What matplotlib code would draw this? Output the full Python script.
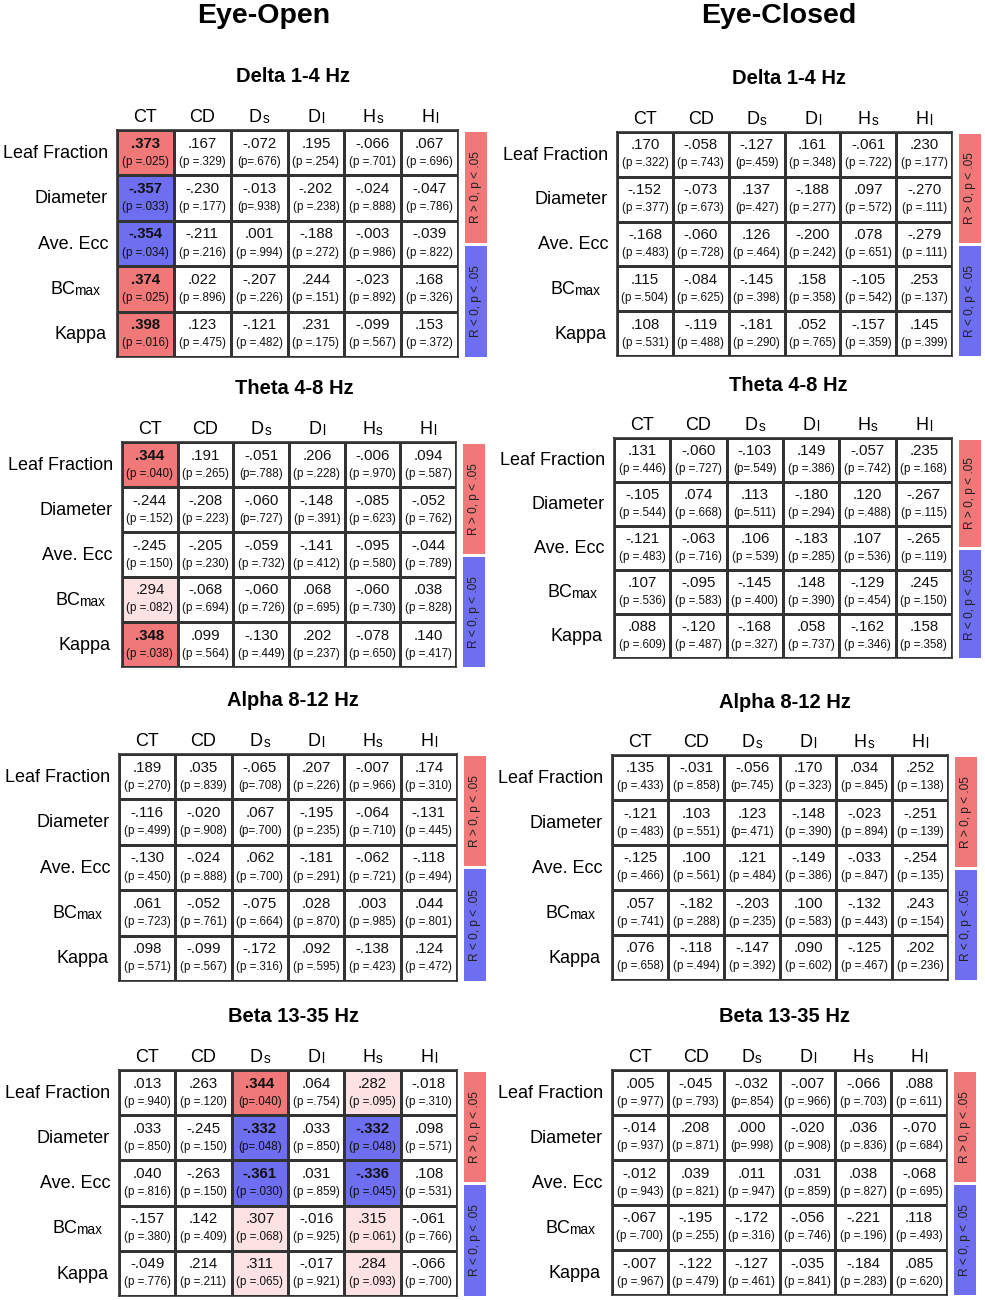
import matplotlib
matplotlib.use('Agg')
import matplotlib.pyplot as plt
import numpy as np
from matplotlib.colors import ListedColormap

plt.rcParams['font.family'] = ['Liberation Sans', 'DejaVu Sans']

# ---------------- data ----------------
conditions = ['Eye-Open', 'Eye-Closed']
bands = ['Delta 1-4 Hz', 'Theta 4-8 Hz', 'Alpha 8-12 Hz', 'Beta 13-35 Hz']
row_labels = [('Leaf Fraction', ''), ('Diameter', ''), ('Ave. Ecc', ''), ('BC', 'max'), ('Kappa', '')]
col_labels = [('CT', ''), ('CD', ''), ('D', 's'), ('D', 'l'), ('H', 's'), ('H', 'l')]
legend_pos = 'R > 0, p < .05'
legend_neg = 'R < 0, p < .05'

eo_delta_r = [[.373, .167, -.072, .195, -.066, .067],
              [-.357, -.230, -.013, -.202, -.024, -.047],
              [-.354, -.211, .001, -.188, -.003, -.039],
              [.374, .022, -.207, .244, -.023, .168],
              [.398, .123, -.121, .231, -.099, .153]]
eo_delta_p = [[.025, .329, .676, .254, .701, .696],
              [.033, .177, .938, .238, .888, .786],
              [.034, .216, .994, .272, .986, .822],
              [.025, .896, .226, .151, .892, .326],
              [.016, .475, .482, .175, .567, .372]]

ec_delta_r = [[.170, -.058, -.127, .161, -.061, .230],
              [-.152, -.073, .137, -.188, .097, -.270],
              [-.168, -.060, .126, -.200, .078, -.279],
              [.115, -.084, -.145, .158, -.105, .253],
              [.108, -.119, -.181, .052, -.157, .145]]
ec_delta_p = [[.322, .743, .459, .348, .722, .177],
              [.377, .673, .427, .277, .572, .111],
              [.483, .728, .464, .242, .651, .111],
              [.504, .625, .398, .358, .542, .137],
              [.531, .488, .290, .765, .359, .399]]

eo_theta_r = [[.344, .191, -.051, .206, -.006, .094],
              [-.244, -.208, -.060, -.148, -.085, -.052],
              [-.245, -.205, -.059, -.141, -.095, -.044],
              [.294, -.068, -.060, .068, -.060, .038],
              [.348, .099, -.130, .202, -.078, .140]]
eo_theta_p = [[.040, .265, .788, .228, .970, .587],
              [.152, .223, .727, .391, .623, .762],
              [.150, .230, .732, .412, .580, .789],
              [.082, .694, .726, .695, .730, .828],
              [.038, .564, .449, .237, .650, .417]]

ec_theta_r = [[.131, -.060, -.103, .149, -.057, .235],
              [-.105, .074, .113, -.180, .120, -.267],
              [-.121, -.063, .106, -.183, .107, -.265],
              [.107, -.095, -.145, .148, -.129, .245],
              [.088, -.120, -.168, .058, -.162, .158]]
ec_theta_p = [[.446, .727, .549, .386, .742, .168],
              [.544, .668, .511, .294, .488, .115],
              [.483, .716, .539, .285, .536, .119],
              [.536, .583, .400, .390, .454, .150],
              [.609, .487, .327, .737, .346, .358]]

eo_alpha_r = [[.189, .035, -.065, .207, -.007, .174],
              [-.116, -.020, .067, -.195, -.064, -.131],
              [-.130, -.024, .062, -.181, -.062, -.118],
              [.061, -.052, -.075, .028, .003, .044],
              [.098, -.099, -.172, .092, -.138, .124]]
eo_alpha_p = [[.270, .839, .708, .226, .966, .310],
              [.499, .908, .700, .235, .710, .445],
              [.450, .888, .700, .291, .721, .494],
              [.723, .761, .664, .870, .985, .801],
              [.571, .567, .316, .595, .423, .472]]

ec_alpha_r = [[.135, -.031, -.056, .170, .034, .252],
              [-.121, .103, .123, -.148, -.023, -.251],
              [-.125, .100, .121, -.149, -.033, -.254],
              [.057, -.182, -.203, .100, -.132, .243],
              [.076, -.118, -.147, .090, -.125, .202]]
ec_alpha_p = [[.433, .858, .745, .323, .845, .138],
              [.483, .551, .471, .390, .894, .139],
              [.466, .561, .484, .386, .847, .135],
              [.741, .288, .235, .583, .443, .154],
              [.658, .494, .392, .602, .467, .236]]

eo_beta_r = [[.013, .263, .344, .064, .282, -.018],
             [.033, -.245, -.332, .033, -.332, .098],
             [.040, -.263, -.361, .031, -.336, .108],
             [-.157, .142, .307, -.016, .315, -.061],
             [-.049, .214, .311, -.017, .284, -.066]]
eo_beta_p = [[.940, .120, .040, .754, .095, .310],
             [.850, .150, .048, .850, .048, .571],
             [.816, .150, .030, .859, .045, .531],
             [.380, .409, .068, .925, .061, .766],
             [.776, .211, .065, .921, .093, .700]]

ec_beta_r = [[.005, -.045, -.032, -.007, -.066, .088],
             [-.014, .208, .000, -.020, .036, -.070],
             [-.012, .039, .011, .031, .038, -.068],
             [-.067, -.195, -.172, -.056, -.221, .118],
             [-.007, -.122, -.127, -.035, -.184, .085]]
ec_beta_p = [[.977, .793, .854, .966, .703, .611],
             [.937, .871, .998, .908, .836, .684],
             [.943, .821, .947, .859, .827, .695],
             [.700, .255, .316, .746, .196, .493],
             [.967, .479, .461, .841, .283, .620]]

panels_r = [[eo_delta_r, eo_theta_r, eo_alpha_r, eo_beta_r],
            [ec_delta_r, ec_theta_r, ec_alpha_r, ec_beta_r]]
panels_p = [[eo_delta_p, eo_theta_p, eo_alpha_p, eo_beta_p],
            [ec_delta_p, ec_theta_p, ec_alpha_p, ec_beta_p]]

# ---------------- layout (pixels) ----------------
W, H = 985, 1300
boxes = [[(117, 130, 458, 357), (122, 442, 456, 667), (119, 754, 457, 981), (119, 1070, 457, 1296)],
         [(617, 132, 952, 356), (614, 438, 952, 658), (612, 755, 948, 980), (612, 1070, 947, 1295)]]
title_x = [264, 779]
row_label_inset = [0, 0, 0, 8, 2]
sub_gap = {'BC': -1.5, 'D': 0.8, 'H': 0.8}

RED = '#F07878'
BLUE = '#6E6EF0'
PINK = '#FCE2E2'
LINE = '#333333'
cmap = ListedColormap(['white', RED, BLUE, PINK])

fig = plt.figure(figsize=(W / 100, H / 100), dpi=100)
fig.patch.set_facecolor('white')
renderer = fig.canvas.get_renderer()


def px_text(x, y, s, **kw):
    return fig.text(x / W, 1 - y / H, s, **kw)


def fmt_r(v):
    s = f"{abs(v):.3f}"[1:]
    return ('-' if v < 0 else '') + s


LABEL_SIZE = 13.0
SUB_SIZE = 9.8


def sub_label(xref, ycenter, main, sub, align):
    base = ycenter + 0.716 * LABEL_SIZE * 100 / 72 / 2
    t1 = px_text(0, base, main, fontsize=LABEL_SIZE, va='baseline', ha='left')
    w1 = t1.get_window_extent(renderer).width
    w2 = 0
    t2 = None
    gap = sub_gap.get(main, 0.0)
    if sub:
        t2 = px_text(0, base + 1, sub, fontsize=SUB_SIZE, va='baseline', ha='left')
        w2 = t2.get_window_extent(renderer).width + gap
    tot = w1 + w2
    x0 = xref - tot / 2 if align == 'center' else xref - tot
    t1.set_x(x0 / W)
    if t2 is not None:
        t2.set_x((x0 + w1 + gap) / W)


for ci, cond in enumerate(conditions):
    px_text(title_x[ci], 16, cond, fontsize=20.5, fontweight='bold', ha='center', va='center')
    for bi, band in enumerate(bands):
        l, t, r, b = boxes[ci][bi]
        pw, ph = r - l, b - t
        ax = fig.add_axes([l / W, 1 - b / H, pw / W, ph / H])
        R = np.array(panels_r[ci][bi])
        P = np.array(panels_p[ci][bi])
        nr, nc = R.shape
        cat = np.zeros_like(R, dtype=int)
        cat[(P < 0.05) & (R > 0)] = 1
        cat[(P < 0.05) & (R < 0)] = 2
        cat[(P >= 0.05) & (P < 0.1) & (R > 0)] = 3
        ax.pcolormesh(np.arange(nc + 1), np.arange(nr + 1), cat, cmap=cmap, vmin=-0.5, vmax=3.5,
                      edgecolors=LINE, linewidth=0.9)
        ax.set_xlim(0, nc)
        ax.set_ylim(nr, 0)
        ax.set_xticks([])
        ax.set_yticks([])
        for sp in ax.spines.values():
            sp.set_linewidth(1.2)
            sp.set_color(LINE)

        for i in range(nr):
            for j in range(nc):
                sig = P[i, j] < 0.05
                ax.text(j + 0.5, i + 0.30, fmt_r(R[i, j]), ha='center', va='center',
                        fontsize=10.8, fontweight='bold' if sig else 'normal', color='#111111')
                sep = '' if (i < 2 and j == 2) else ' '
                ptxt = f"(p{sep}=" + f"{P[i, j]:.3f}"[1:] + ')'
                ax.text(j + 0.5, i + 0.70, ptxt, ha='center', va='center',
                        fontsize=8.4, color='#111111')

        cw = pw / nc
        rh = ph / nr
        for j, (m, s) in enumerate(col_labels):
            sub_label(l + (j + 0.5) * cw, t - 14, m, s, 'center')
        for i, (m, s) in enumerate(row_labels):
            sub_label(l - 9 - row_label_inset[i], t + (i + 0.47) * rh, m, s, 'right')

        px_text((l + r) / 2 + 5, t - 53, band, fontsize=14.5, fontweight='bold',
                ha='center', va='center')

        # legend bar
        bl = r + 7
        mid = (t + b) / 2
        lax = fig.add_axes([bl / W, 1 - b / H, 22 / W, ph / H])
        lax.set_xlim(0, 1)
        lax.set_ylim(b, t)
        lax.axis('off')
        lax.add_patch(plt.Rectangle((0, t + 2), 1, (mid - 1) - (t + 2), color=RED, lw=0))
        lax.add_patch(plt.Rectangle((0, mid + 2), 1, b - (mid + 2), color=BLUE, lw=0))
        lax.text(0.5, (t + 2 + mid - 1) / 2, legend_pos, rotation=90, ha='center', va='center',
                 fontsize=8.6, color='#222222')
        lax.text(0.5, (mid + 2 + b) / 2, legend_neg, rotation=90, ha='center', va='center',
                 fontsize=8.6, color='#222222')

fig.savefig('out.png', dpi=100, facecolor='white')
